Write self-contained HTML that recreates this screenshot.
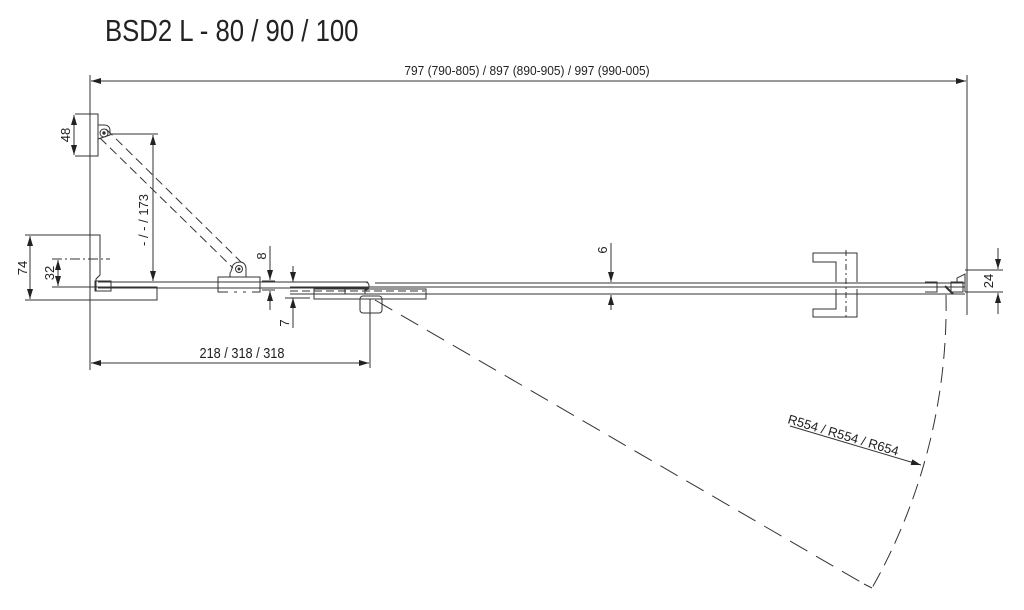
<!DOCTYPE html>
<html><head><meta charset="utf-8"><style>
html,body{margin:0;padding:0;background:#fff;}
svg{display:block;font-family:"Liberation Sans",sans-serif;}
</style></head><body>
<svg width="1024" height="610" viewBox="0 0 1024 610" xmlns="http://www.w3.org/2000/svg">
<defs>
<marker id="a" viewBox="0 0 10 6" refX="10" refY="3" markerWidth="10" markerHeight="6" orient="auto-start-reverse" markerUnits="userSpaceOnUse"><path d="M0,0 L10,3 L0,6z" fill="#222"/></marker>
</defs>
<g stroke="#333" stroke-width="1" fill="none">
<line x1="90" y1="75" x2="90" y2="370"/>
<line x1="967" y1="75" x2="967" y2="315"/>
<line x1="91" y1="81" x2="966" y2="81" marker-start="url(#a)" marker-end="url(#a)"/>
<line x1="98" y1="282" x2="368" y2="282"/>
<line x1="98" y1="288" x2="368" y2="288"/>
<line x1="375" y1="283" x2="965" y2="283"/>
<line x1="290" y1="287" x2="965" y2="287"/>
<line x1="290" y1="294" x2="965" y2="294"/>
<line x1="290" y1="291" x2="425" y2="291" stroke-dasharray="8,4"/>
<rect x="90" y="114" width="8" height="42"/>
<path d="M98,125 h6 q6,0 6,6 v4 l-12,4"/>
<circle cx="104" cy="133" r="4"/><circle cx="104" cy="133" r="1.2" fill="#333"/>
<line x1="75" y1="114" x2="90" y2="114"/><line x1="75" y1="156" x2="90" y2="156"/>
<line x1="74" y1="115" x2="74" y2="155" marker-start="url(#a)" marker-end="url(#a)"/>
<line x1="110" y1="134" x2="158" y2="134"/>
<line x1="153" y1="135" x2="153" y2="281" marker-start="url(#a)" marker-end="url(#a)"/>
<line x1="106" y1="129" x2="241" y2="262" stroke-dasharray="9,5"/>
<line x1="100" y1="138" x2="233" y2="268" stroke-dasharray="9,5"/>
<path d="M90,235 h10 v40 l-4,4 v12"/>
<rect x="95" y="281" width="16" height="10"/>
<rect x="90" y="287" width="67" height="13"/>
<line x1="25" y1="235" x2="90" y2="235"/><line x1="25" y1="300" x2="90" y2="300"/>
<line x1="30" y1="236" x2="30" y2="299" marker-start="url(#a)" marker-end="url(#a)"/>
<line x1="52" y1="259" x2="110" y2="259" stroke-dasharray="10,3,2,3"/>
<line x1="52" y1="287" x2="95" y2="287"/>
<line x1="58" y1="260" x2="58" y2="286" marker-start="url(#a)" marker-end="url(#a)"/>
<rect x="218" y="277" width="42" height="15"/>
<path d="M230,277 v-4 q2,-3 2,-6 q2,-5 8,-5 q5,0 6,6 v9"/>
<circle cx="239" cy="269" r="3.5"/><circle cx="239" cy="269" r="1" fill="#333"/>
<line x1="228" y1="292" x2="252" y2="292" stroke="#fff" stroke-width="2" stroke-dasharray="6,3"/>
<line x1="262" y1="281" x2="275" y2="281"/><line x1="262" y1="290" x2="275" y2="290"/>
<line x1="270" y1="246" x2="270" y2="280" marker-end="url(#a)"/>
<line x1="270" y1="310" x2="270" y2="291" marker-end="url(#a)"/>
<line x1="293" y1="266" x2="293" y2="282" marker-end="url(#a)"/>
<line x1="293" y1="328" x2="293" y2="298" marker-end="url(#a)"/>
<line x1="285" y1="298" x2="310" y2="298"/>
<rect x="314" y="289" width="112" height="10"/>
<rect x="345" y="288" width="20" height="6"/>
<rect x="360" y="296" width="22" height="17" rx="3"/>
<path d="M365,282 q4,0 4,4 q0,4 -4,4"/>
<line x1="370" y1="299" x2="370" y2="368"/>
<line x1="91" y1="363" x2="369" y2="363" marker-start="url(#a)" marker-end="url(#a)"/>
<line x1="611" y1="243" x2="611" y2="282" marker-end="url(#a)"/>
<line x1="611" y1="310" x2="611" y2="295" marker-end="url(#a)"/>
<path d="M836,282 v-20 h-23 v-9 h44 v29"/>
<path d="M836,289 v20 h-23 v8 h44 v-28"/>
<line x1="846" y1="250" x2="846" y2="320" stroke-dasharray="6,3,2,3"/>
<path d="M925,282 h12 v10 h-12"/>
<rect x="951" y="282" width="12" height="10"/>
<path d="M945,286 l8,8" stroke-width="2"/>
<path d="M957,282 v-4 l8,-4 v18"/>
<line x1="965" y1="270" x2="1003" y2="270"/><line x1="965" y1="292" x2="1003" y2="292"/>
<line x1="998" y1="248" x2="998" y2="269" marker-end="url(#a)"/>
<line x1="998" y1="314" x2="998" y2="293" marker-end="url(#a)"/>
<line x1="375" y1="300" x2="864" y2="584" stroke-dasharray="20,10"/>
<path d="M946,295 A572,572 0 0 1 872,588" stroke-dasharray="16,8"/>
<line x1="864" y1="584" x2="872" y2="588"/>
<line x1="790" y1="426" x2="921" y2="465" marker-end="url(#a)"/>
</g>
<g fill="#222">
<text x="105" y="41" font-size="31" transform="translate(105 0) scale(0.83 1) translate(-105 0)">BSD2 L - 80 / 90 / 100</text>
<text x="527" y="75" font-size="13" text-anchor="middle" transform="translate(527 0) scale(0.92 1) translate(-527 0)">797 (790-805) / 897 (890-905) / 997 (990-005)</text>
<text x="242" y="358" font-size="15" text-anchor="middle" transform="translate(242 0) scale(0.85 1) translate(-242 0)">218 / 318 / 318</text>
<text font-size="13" transform="translate(70 135) rotate(-90)" text-anchor="middle">48</text>
<text font-size="13" transform="translate(148 246) rotate(-90)">- / - / 173</text>
<text font-size="13" transform="translate(27 268) rotate(-90)" text-anchor="middle">74</text>
<text font-size="13" transform="translate(54 273) rotate(-90)" text-anchor="middle">32</text>
<text font-size="13" transform="translate(266 256) rotate(-90)" text-anchor="middle">8</text>
<text font-size="13" transform="translate(289 323) rotate(-90)" text-anchor="middle">7</text>
<text font-size="13" transform="translate(607 250) rotate(-90)" text-anchor="middle">6</text>
<text font-size="13" transform="translate(993 281) rotate(-90)" text-anchor="middle">24</text>
<text font-size="13" transform="translate(787 423) rotate(16.6)">R554 / R554 / R654</text>
</g>
</svg>
</body></html>
